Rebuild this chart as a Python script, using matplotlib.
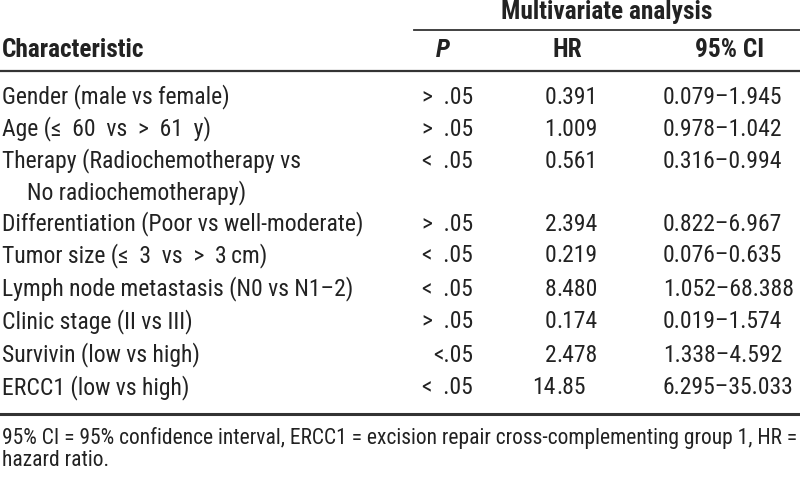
import matplotlib.pyplot as plt
from matplotlib import font_manager

characteristics = [
    "Gender (male vs female)",
    "Age (\u2264  60  vs  >  61  y)",
    "Therapy (Radiochemotherapy vs\nNo radiochemotherapy)",
    "Differentiation (Poor vs well-moderate)",
    "Tumor size (\u2264  3  vs  >  3\u2009cm)",
    "Lymph node metastasis (N0 vs N1\u20132)",
    "Clinic stage (II vs III)",
    "Survivin (low vs high)",
    "ERCC1 (low vs high)",
]
p_values = [">  .05", ">  .05", "<  .05", ">  .05", "<  .05", "<  .05", ">  .05", "<.05", "<  .05"]
hr = ["0.391", "1.009", "0.561", "2.394", "0.219", "8.480", "0.174", "2.478", "14.85"]
ci = ["0.079\u20131.945", "0.978\u20131.042", "0.316\u20130.994", "0.822\u20136.967",
      "0.076\u20130.635", "1.052\u201368.388", "0.019\u20131.574", "1.338\u20134.592",
      "6.295\u201335.033"]
footnote = ["95% CI = 95% confidence interval, ERCC1 = excision repair cross-complementing group 1, HR =",
            "hazard ratio."]

# pick a condensed sans if one is installed
names = {f.name for f in font_manager.fontManager.ttflist}
main = "Liberation Sans"
for cand in ["Roboto Condensed", "Liberation Sans Narrow", "Archivo Narrow", "PT Sans Narrow",
             "Fira Sans Condensed", "IBM Plex Sans Condensed", "Open Sans Condensed",
             "Encode Sans Condensed", "Barlow Semi Condensed"]:
    if cand in names:
        main = cand
        break
plt.rcParams["font.family"] = [main, "DejaVu Sans"]
txt = "#222222"
rule = "#333333"

fig = plt.figure(figsize=(8, 4.78), dpi=100)
ax = fig.add_axes([0, 0, 1, 1])
ax.set_xlim(0, 800)
ax.set_ylim(478, 0)
ax.axis("off")

# size the fonts so sample strings match the reference widths
renderer = fig.canvas.get_renderer()
def fit(s, width, **kw):
    t = fig.text(0, 0, s, fontsize=10, **kw)
    w = t.get_window_extent(renderer).width
    t.remove()
    return 10 * width / w

fs = fit("Gender (male vs female)", 226)
fs_bold = fit("Multivariate analysis", 212, fontweight="bold")
fs_foot = fit(footnote[0], 795)

# header
ax.text(607, 12, "Multivariate analysis", ha="center", va="center", fontsize=fs_bold, fontweight="bold", color=txt)
ax.plot([414, 800], [30, 30], color=rule, lw=1.3)
ax.text(2, 50, "Characteristic", ha="left", va="center", fontsize=fs_bold, fontweight="bold", color=txt)
ax.text(443, 50, "P", ha="center", va="center", fontsize=fs_bold, fontweight="bold", fontstyle="italic", color=txt)
ax.text(567, 50, "HR", ha="center", va="center", fontsize=fs_bold, fontweight="bold", color=txt)
ax.text(730, 50, "95% CI", ha="center", va="center", fontsize=fs_bold, fontweight="bold", color=txt)
ax.plot([0, 800], [71, 71], color=rule, lw=1.6)

# rows
row_y = [97, 129, 161, 224, 256, 289, 322, 355, 388]
for i, y in enumerate(row_y):
    lines = characteristics[i].split("\n")
    ax.text(2, y, lines[0], ha="left", va="center", fontsize=fs, color=txt)
    if len(lines) > 1:
        ax.text(27, y + 32, lines[1], ha="left", va="center", fontsize=fs, color=txt)
    ax.text(473, y, p_values[i], ha="right", va="center", fontsize=fs, color=txt)
    whole, frac = hr[i].split(".")
    ax.text(556, y, whole, ha="right", va="center", fontsize=fs, color=txt)
    ax.text(556, y, "." + frac, ha="left", va="center", fontsize=fs, color=txt)
    ax.text(663, y, ci[i], ha="left", va="center", fontsize=fs, color=txt)

ax.plot([0, 800], [414, 414], color=rule, lw=2.2)
ax.text(2, 438, footnote[0], ha="left", va="center", fontsize=fs_foot, color=txt)
ax.text(2, 461, footnote[1], ha="left", va="center", fontsize=fs_foot, color=txt)

fig.savefig("out.png", dpi=100)
